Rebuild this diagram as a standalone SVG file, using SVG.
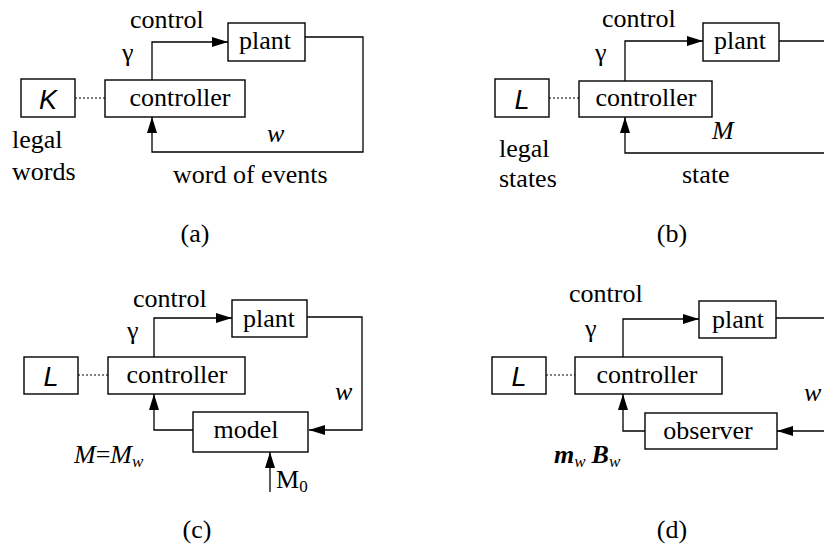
<svg xmlns="http://www.w3.org/2000/svg" width="824" height="546" viewBox="0 0 824 546">
<style>
.box{fill:#fff;stroke:#000;stroke-width:1.4}
.ln{fill:none;stroke:#000;stroke-width:1.3}
.arr{marker-end:url(#ah)}
.dot{fill:none;stroke:#000;stroke-width:1.2;stroke-dasharray:2 2}
text{font-family:"Liberation Serif","Times New Roman",serif;font-size:26px;fill:#000}
.c{text-anchor:middle}
.sans{font-family:"Liberation Sans",Arial,sans-serif;font-style:italic;font-size:27px}
.it{font-style:italic}
.sub{font-size:17px}
.bi{font-style:italic;font-weight:bold}
</style>
<defs>
<marker id="ah" markerUnits="userSpaceOnUse" markerWidth="17" markerHeight="11" refX="16" refY="5" orient="auto">
<path d="M0,0 L16,5 L0,10 Z" fill="#000"/>
</marker>
</defs>

<g id="connectors">
<!-- (a) -->
<line class="dot" x1="75" y1="98" x2="105" y2="98"/>
<polyline class="ln arr" points="152,80 152,42 228,42"/>
<polyline class="ln arr" points="305,37 363,37 363,152 152,152 152,117"/>
<!-- (b) -->
<line class="dot" x1="549" y1="98" x2="579" y2="98"/>
<polyline class="ln arr" points="625,81 625,41 703,41"/>
<line class="ln" x1="779" y1="41" x2="826" y2="41"/>
<polyline class="ln arr" points="826,153 625,153 625,117"/>
<!-- (c) -->
<line class="dot" x1="78" y1="375" x2="108" y2="375"/>
<polyline class="ln arr" points="154,357 154,318 232,318"/>
<polyline class="ln arr" points="307,317 362,317 362,430 309,430"/>
<polyline class="ln arr" points="193,430 154,430 154,394"/>
<line class="ln arr" x1="270" y1="492" x2="270" y2="452"/>
<!-- (d) -->
<line class="dot" x1="546" y1="375" x2="575" y2="375"/>
<polyline class="ln arr" points="623,357 623,319 699,319"/>
<line class="ln" x1="776" y1="318" x2="826" y2="318"/>
<line class="ln arr" x1="826" y1="431" x2="777" y2="431"/>
<polyline class="ln arr" points="645,431 623,431 623,394"/>
</g>

<!-- panel (a) -->
<g id="a-K"><rect class="box" x="21" y="79" width="54" height="38"/><text class="sans c" x="48" y="109">K</text></g>
<g id="a-controller"><rect class="box" x="105" y="80" width="140" height="37"/><text class="c" x="180" y="106">controller</text></g>
<g id="a-plant"><rect class="box" x="228" y="23" width="77" height="38"/><text class="c" x="265" y="49">plant</text></g>
<g id="a-labels">
<text x="130" y="28">control</text>
<text x="122" y="61">γ</text>
<text class="it" x="267" y="142">w</text>
<text x="12" y="148">legal</text>
<text x="12" y="180">words</text>
<text x="173" y="183">word of events</text>
<text class="c" x="195" y="242">(a)</text>
</g>

<!-- panel (b) -->
<g id="b-L"><rect class="box" x="495" y="79" width="54" height="38"/><text class="sans c" x="522" y="109">L</text></g>
<g id="b-controller"><rect class="box" x="579" y="81" width="133" height="36"/><text class="c" x="646" y="106">controller</text></g>
<g id="b-plant"><rect class="box" x="703" y="23" width="76" height="38"/><text class="c" x="740" y="49">plant</text></g>
<g id="b-labels">
<text x="602" y="27">control</text>
<text x="595" y="61">γ</text>
<text class="it" x="712" y="139">M</text>
<text x="499" y="157">legal</text>
<text x="499" y="187">states</text>
<text x="682" y="183">state</text>
<text class="c" x="672" y="242">(b)</text>
</g>

<!-- panel (c) -->
<g id="c-L"><rect class="box" x="24" y="357" width="54" height="37"/><text class="sans c" x="51" y="386">L</text></g>
<g id="c-controller"><rect class="box" x="108" y="357" width="137" height="37"/><text class="c" x="177" y="383">controller</text></g>
<g id="c-plant"><rect class="box" x="232" y="300" width="75" height="37"/><text class="c" x="269" y="327">plant</text></g>
<g id="c-model"><rect class="box" x="193" y="412" width="115" height="40"/><text class="c" x="246" y="438">model</text></g>
<g id="c-labels">
<text x="133" y="307">control</text>
<text x="127" y="339">γ</text>
<text class="it" x="335" y="400">w</text>
<text x="74" y="463"><tspan class="it">M</tspan>=<tspan class="it">M</tspan><tspan class="it sub" dy="4">w</tspan></text>
<text x="276" y="488">M<tspan class="sub" dy="4">0</tspan></text>
<text class="c" x="197" y="538">(c)</text>
</g>

<!-- panel (d) -->
<g id="d-L"><rect class="box" x="492" y="357" width="54" height="37"/><text class="sans c" x="519" y="386">L</text></g>
<g id="d-controller"><rect class="box" x="575" y="357" width="147" height="37"/><text class="c" x="647" y="383">controller</text></g>
<g id="d-plant"><rect class="box" x="699" y="301" width="77" height="37"/><text class="c" x="738" y="328">plant</text></g>
<g id="d-observer"><rect class="box" x="645" y="413" width="132" height="36"/><text class="c" x="708" y="439">observer</text></g>
<g id="d-labels">
<text x="569" y="302">control</text>
<text x="585" y="337">γ</text>
<text class="it" x="804" y="401">w</text>
<text x="554" y="463"><tspan class="bi">m</tspan><tspan class="it sub" dy="4">w</tspan><tspan dy="-4" dx="6" class="bi">B</tspan><tspan class="it sub" dy="4">w</tspan></text>
<text class="c" x="672" y="538">(d)</text>
</g>
</svg>
